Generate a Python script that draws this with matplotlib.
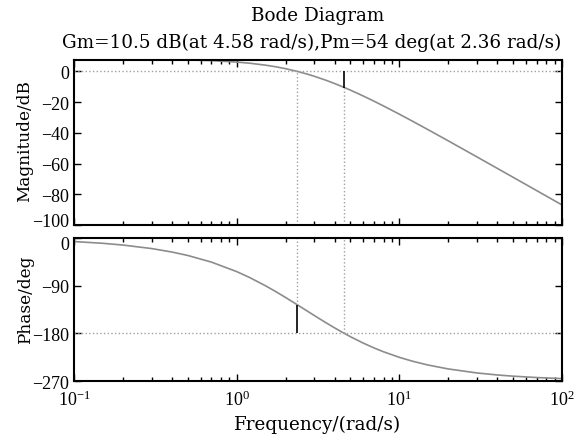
import numpy as np
import matplotlib
matplotlib.use("Agg")
import matplotlib.pyplot as plt
from matplotlib.transforms import ScaledTranslation
from matplotlib.ticker import LogLocator, NullFormatter, FixedLocator

# frequency response (rad/s, dB, deg)
freq = [0.1, 0.15, 0.2, 0.3, 0.4, 0.5, 0.7, 1.0, 1.2, 1.5, 1.75, 2.0, 2.36,
        2.7, 3.0, 3.5, 4.0, 4.58, 5.0, 6.0, 7.0, 8.0, 10.0, 12.0, 15.0,
        20.0, 30.0, 40.0, 50.0, 70.0, 100.0]
mag_db = [7.94, 7.91, 7.88, 7.78, 7.64, 7.46, 7.00, 6.07, 5.33, 4.08, 2.95,
          1.75, -0.01, -1.70, -3.18, -5.59, -7.91, -10.45, -12.19, -16.02,
          -19.45, -22.53, -27.86, -32.33, -37.92, -45.23, -55.67, -63.12,
          -68.91, -77.66, -86.95]
phase_deg = [-6.68, -10.01, -13.34, -19.95, -26.50, -32.96, -45.56, -63.43,
             -74.57, -90.00, -101.70, -112.38, -126.10, -137.44, -146.31,
             -159.05, -169.70, -179.95, -186.27, -198.43, -207.66, -214.85,
             -225.29, -232.47, -239.79, -247.23, -254.76, -258.56, -260.84,
             -263.45, -265.42]

# stability margins
gm_db, wcg = 10.5, 4.58
pm_deg, wcp = 54, 2.36

mag_ticks = [0, -20, -40, -60, -80, -100]
phase_ticks = [0, -90, -180, -270]

plt.rcParams['font.family'] = ['Liberation Serif', 'DejaVu Serif']
plt.rcParams['mathtext.fontset'] = 'stix'
title_font = dict(family=['DejaVu Serif'], fontsize=13.2)
ylab_font = dict(family=['DejaVu Serif'], fontsize=12.2)

fig = plt.figure(figsize=(5.85, 4.39), dpi=100)
ax1 = fig.add_axes([0.1265, 0.4852, 0.8342, 0.3765])
ax2 = fig.add_axes([0.1265, 0.1298, 0.8342, 0.3258], sharex=ax1)

curve_col = '#8c8c8c'
dot_col = '#a0a0a0'

# magnitude
ax1.semilogx(freq, mag_db, color=curve_col, lw=1.2)
ax1.axhline(0, color=dot_col, ls=':', lw=1)
ax1.vlines(wcp, -100, 0, color=dot_col, ls=':', lw=1)
ax1.vlines(wcg, -100, -gm_db, color=dot_col, ls=':', lw=1)
ax1.vlines(wcg, -gm_db, 0, color='black', lw=1.2)
ax1.set_ylim(-100, 7.6)
ax1.yaxis.set_major_locator(FixedLocator(mag_ticks))

# phase
ax2.semilogx(freq, phase_deg, color=curve_col, lw=1.2)
ax2.axhline(-180, color=dot_col, ls=':', lw=1)
ax2.vlines(wcp, -180 + pm_deg, 0, color=dot_col, ls=':', lw=1)
ax2.vlines(wcg, -180, 0, color=dot_col, ls=':', lw=1)
ax2.vlines(wcp, -180, -180 + pm_deg, color='black', lw=1.2)
ax2.set_ylim(-270, 0)
ax2.yaxis.set_major_locator(FixedLocator(phase_ticks))

ax2.set_xlim(0.1, 100)
for ax in (ax1, ax2):
    ax.xaxis.set_major_locator(LogLocator(base=10, numticks=10))
    ax.xaxis.set_minor_locator(LogLocator(base=10, subs=np.arange(2, 10), numticks=10))
    ax.xaxis.set_minor_formatter(NullFormatter())
    ax.tick_params(which='both', direction='in', top=True, right=True,
                   labelsize=13, width=1)
    ax.tick_params(which='major', length=5)
    ax.tick_params(which='minor', length=3)
    for s in ax.spines.values():
        s.set_linewidth(1.5)
plt.setp(ax1.get_xticklabels(), visible=False)
ax2.tick_params(axis='x', pad=6)

# nudge the two labels that meet between the panels, like the original
fig.canvas.draw()
lab = ax1.yaxis.get_major_ticks()[-1].label1
lab.set_transform(lab.get_transform() + ScaledTranslation(0, 4 / 72, fig.dpi_scale_trans))
lab = ax2.yaxis.get_major_ticks()[0].label1
lab.set_transform(lab.get_transform() + ScaledTranslation(0, -3 / 72, fig.dpi_scale_trans))

fig.text(0.5436, 0.963, 'Bode Diagram', ha='center', va='center', **title_font)
fig.text(0.532, 0.902, 'Gm=10.5 dB(at 4.58 rad/s),Pm=54 deg(at 2.36 rad/s)',
         ha='center', va='center', **title_font)
fig.text(0.5436, 0.032, 'Frequency/(rad/s)', ha='center', va='center', **title_font)
fig.text(0.043, 0.679, 'Magnitude/dB', ha='center', va='center', rotation=90, **ylab_font)
fig.text(0.043, 0.3166, 'Phase/deg', ha='center', va='center', rotation=90, **ylab_font)

fig.savefig('out.png', dpi=100)
